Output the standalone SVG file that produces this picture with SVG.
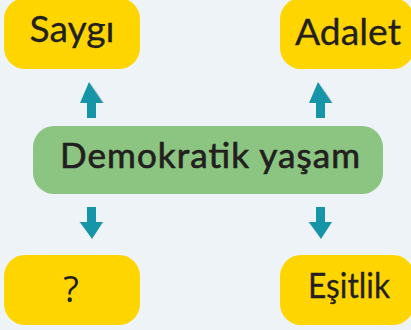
<svg xmlns="http://www.w3.org/2000/svg" width="411" height="330" viewBox="0 0 411 330">
<defs>
<style>
.bg{fill:#eef3f7}
.y{fill:#ffd500}
.g{fill:#8bc581}
.t{font-family:"Lato","Open Sans","Liberation Sans",sans-serif;fill:#231f20;stroke:#231f20;stroke-width:0.3;text-anchor:middle}
.b{stroke-width:0.7}
.n{stroke:none;font-family:"Open Sans","Liberation Sans",sans-serif;font-weight:400}
.ar{fill:#1795a8}
.sh{fill:#9aa0a4;opacity:0.6}
</style>
</defs>
<rect class="bg" x="0" y="0" width="411" height="330"/>
<g id="connectors">
<g id="arrow-up-left">
<polygon class="sh" points="90,82 104,103 102,103"/>
<polygon class="ar" points="87,118 87,103 80,103 89,82 103,103 96,103 96,118"/>
</g>
<g id="arrow-up-right">
<polygon class="sh" points="319,82 333,103 331,103"/>
<polygon class="ar" points="316,118 316,103 309,103 318,82 332,103 325,103 325,118"/>
</g>
<g id="arrow-down-left">
<polygon class="sh" points="79,222 93,239 81,222"/>
<polygon class="ar" points="87,207 96,207 96,222 103,222 92,239 80,222 87,222"/>
</g>
<g id="arrow-down-right">
<polygon class="sh" points="308,222 322,239 310,222"/>
<polygon class="ar" points="316,207 325,207 325,222 332,222 321,239 309,222 316,222"/>
</g>
</g>
<g id="node-saygi">
<rect class="y" x="4" y="-2" width="136" height="71" rx="21"/>
<text class="t" x="72" y="42" font-size="37" textLength="85" lengthAdjust="spacingAndGlyphs">Saygı</text>
</g>
<g id="node-adalet">
<rect class="y" x="280" y="-2" width="134" height="71" rx="21"/>
<text class="t" x="348" y="45" font-size="37" textLength="106" lengthAdjust="spacingAndGlyphs">Adalet</text>
</g>
<g id="node-demokratik">
<rect class="g" x="33" y="126" width="350" height="68" rx="21"/>
<text class="t b" x="210" y="168" font-size="35" textLength="300" lengthAdjust="spacing">Demokratik yaşam</text>
</g>
<g id="node-soru">
<rect class="y" x="4" y="255" width="136" height="70" rx="21"/>
<text class="t n" x="71" y="302" font-size="36">?</text>
</g>
<g id="node-esitlik">
<rect class="y" x="280" y="255" width="134" height="70" rx="21"/>
<text class="t" x="349" y="298" font-size="34" textLength="82" lengthAdjust="spacingAndGlyphs">Eşitlik</text>
</g>
</svg>
